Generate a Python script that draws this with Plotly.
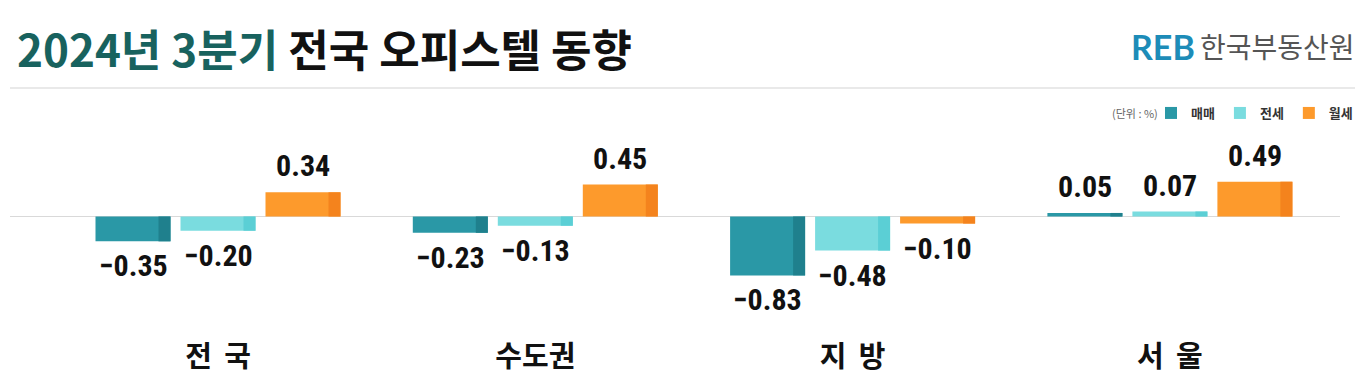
import plotly.graph_objects as go

# ---- data ----
categories = ["전 국", "수도권", "지 방", "서 울"]
tick_labels = ["전\u2009 국", "수도권", "지\u2009 방", "서\u2009 울"]
series_names = ["매매", "전세", "월세"]
sale = [-0.35, -0.23, -0.83, 0.05]
jeonse = [-0.20, -0.13, -0.48, 0.07]
wolse = [0.34, 0.45, -0.10, 0.49]
series_values = [sale, jeonse, wolse]

main_colors = ["#2a98a6", "#7adcdf", "#fd9a2c"]
dark_colors = ["#1f808d", "#5bcfd5", "#f4831d"]

# ---- layout geometry (screen pixels; page body has an 8px margin) ----
OFF = 8
W, H = 1372, 385
SL, SR, ST, SB = 10, 1340, 130, 325          # plot area on screen
PL, PR, PT, PB = SL - OFF, SR - OFF, ST - OFF, SB - OFF
CAT_PX = 317.3
ZERO_SCREEN = 216.5
PX_PER_UNIT = 71.0


def px_x(p):
    return (p - SL) / (SR - SL)


def px_y(p):
    return (SB - p) / (SB - ST)


first_center = 218
x_lo = -(first_center - SL) / CAT_PX
x_hi = x_lo + (SR - SL) / CAT_PX
y_hi = (ZERO_SCREEN - ST) / PX_PER_UNIT
y_lo = -(SB - ZERO_SCREEN) / PX_PER_UNIT

bar_w = 75 / CAT_PX
strip_w = 12 / CAT_PX
centers = [-85 / CAT_PX, 0.0, 85 / CAT_PX]

fig = go.Figure()
label_font = "Liberation Sans Narrow, Roboto Condensed, DejaVu Sans Condensed, Arial Narrow, sans-serif"

for i, (name, vals) in enumerate(zip(series_names, series_values)):
    off = centers[i] - bar_w / 2
    fig.add_trace(go.Bar(
        x=categories, y=vals, name=name,
        width=bar_w, offset=off,
        marker=dict(color=main_colors[i], line=dict(width=0)),
        showlegend=True,
    ))
    fig.add_trace(go.Bar(
        x=categories, y=vals, name=name,
        width=strip_w, offset=off + bar_w - strip_w,
        marker=dict(color=dark_colors[i], line=dict(width=0)),
        showlegend=False, hoverinfo="skip",
    ))

annotations = []
for i, vals in enumerate(series_values):
    for j, v in enumerate(vals):
        annotations.append(dict(
            x=j + centers[i], y=v, xref="x", yref="y",
            text=f"{v:.2f}".replace("-", "−"),
            showarrow=False,
            yanchor="bottom" if v >= 0 else "top",
            yshift=7 if v >= 0 else -5,
            font=dict(family=label_font, size=30, color="#111111", weight="bold"),
        ))

# title
annotations.append(dict(
    xref="paper", yref="paper", x=px_x(15), y=px_y(48),
    xanchor="left", yanchor="middle", showarrow=False,
    text="<span style='color:#18625e'>2024년 3분기</span> 전국 오피스텔 동향",
    font=dict(family="Noto Sans CJK KR", size=44, color="#111111", weight="bold"),
))
# logo
annotations.append(dict(
    xref="paper", yref="paper", x=px_x(1197), y=px_y(46),
    xanchor="right", yanchor="middle", showarrow=False,
    text="<b>REB</b>",
    font=dict(family="Lato, Noto Sans", size=34, color="#1d8cb8"),
))
annotations.append(dict(
    xref="paper", yref="paper", x=px_x(1357), y=px_y(46),
    xanchor="right", yanchor="middle", showarrow=False,
    text="한국부동산원",
    font=dict(family="Noto Sans CJK KR", size=28, color="#555555"),
))
# unit
annotations.append(dict(
    xref="paper", yref="paper", x=px_x(1160), y=px_y(113),
    xanchor="right", yanchor="middle", showarrow=False,
    text="(단위 : %)",
    font=dict(family="Noto Sans CJK KR", size=11, color="#666666"),
))

fig.update_layout(
    width=W, height=H,
    margin=dict(l=PL, r=W - PR, t=PT, b=H - PB, pad=0),
    paper_bgcolor="white", plot_bgcolor="white",
    barmode="overlay",
    showlegend=True,
    legend=dict(
        orientation="h", xref="paper", yref="paper",
        x=px_x(1358), y=px_y(113), xanchor="right", yanchor="middle",
        font=dict(family="Noto Sans CJK KR", size=13, color="#333333", weight="bold"),
        itemwidth=30, bgcolor="rgba(0,0,0,0)", tracegroupgap=0,
    ),
    xaxis=dict(
        type="category", range=[x_lo, x_hi],
        tickmode="array", tickvals=categories, ticktext=tick_labels,
        showgrid=False, showline=False, zeroline=False,
        ticks="", ticklabelstandoff=12,
        tickfont=dict(family="Noto Sans CJK KR", size=29, color="#111111", weight="bold"),
    ),
    yaxis=dict(
        range=[y_lo, y_hi], showgrid=False, showticklabels=False,
        zeroline=True, zerolinecolor="#d9d9d9", zerolinewidth=1.2,
        showline=False,
    ),
    annotations=annotations,
    shapes=[dict(
        type="line", xref="paper", yref="paper",
        x0=px_x(10), x1=px_x(1355), y0=px_y(88), y1=px_y(88),
        line=dict(color="#e2e2e2", width=1.5),
    )],
)

fig.write_html("out.html")
